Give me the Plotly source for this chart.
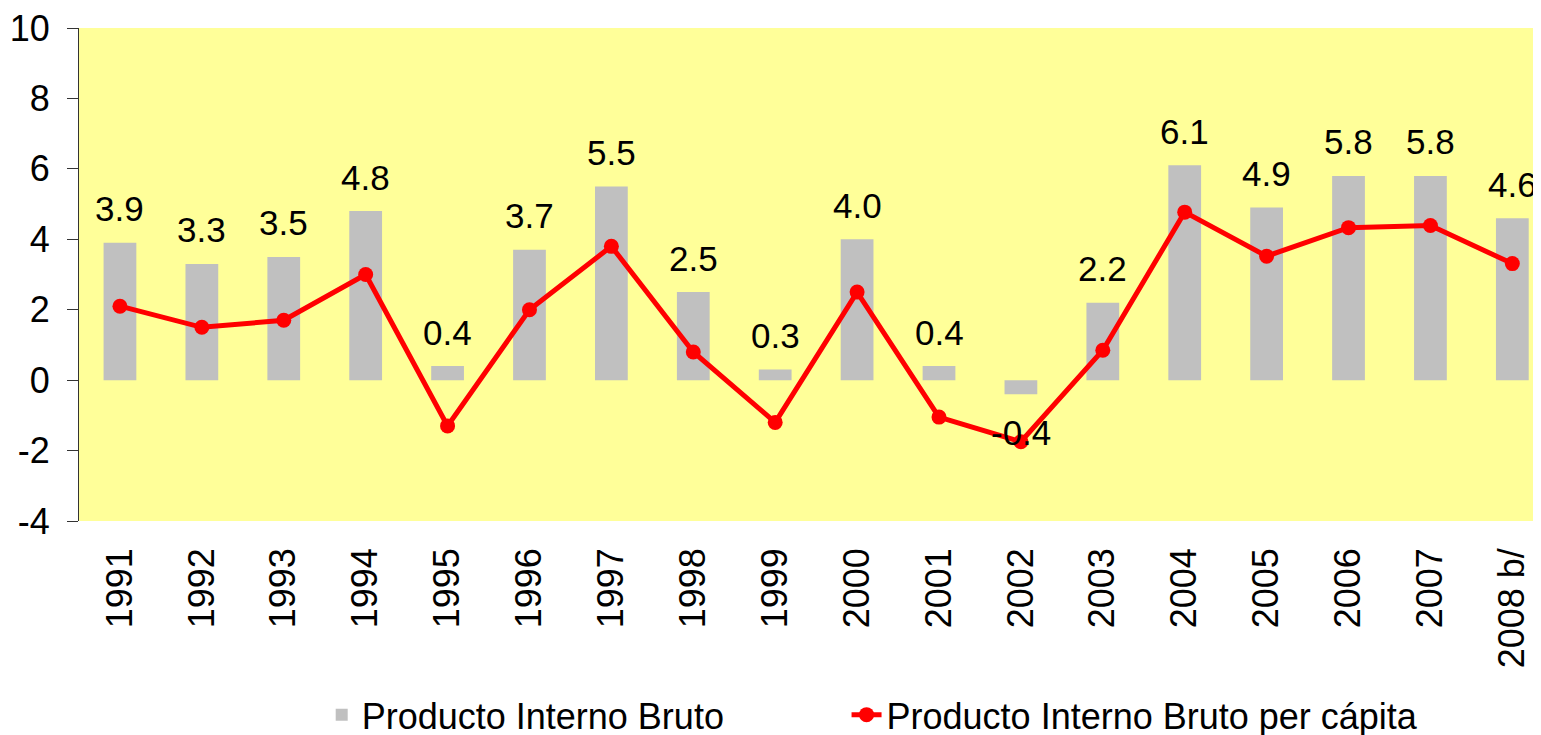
import plotly.graph_objects as go

years = ["1991", "1992", "1993", "1994", "1995", "1996", "1997", "1998", "1999",
         "2000", "2001", "2002", "2003", "2004", "2005", "2006", "2007", "2008 b/"]
pib = [3.9, 3.3, 3.5, 4.8, 0.4, 3.7, 5.5, 2.5, 0.3, 4.0, 0.4, -0.4, 2.2, 6.1, 4.9, 5.8, 5.8, 4.6]
pib_pc = [2.1, 1.5, 1.7, 3.0, -1.3, 2.0, 3.8, 0.8, -1.2, 2.5, -1.05, -1.75, 0.85, 4.77, 3.52, 4.33, 4.39, 3.31]
y_ticks = [-4, -2, 0, 2, 4, 6, 8, 10]
y_tick_text = ["-4", "-2", "0", "2", "4", "6", "8", "10"]

FONT = "Liberation Sans, Arial, sans-serif"
FS = 36
n = len(years)
xr = [-0.5, n - 0.65]

fig = go.Figure()
fig.add_trace(go.Bar(x=years, y=pib, name="Producto Interno Bruto",
                     marker=dict(color="#C0C0C0", line=dict(width=0)), width=0.4,
                     legend="legend"))
fig.add_trace(go.Scatter(x=years, y=pib_pc, name="Producto Interno Bruto per cápita",
                         mode="lines+markers", line=dict(color="#FF0000", width=5),
                         marker=dict(color="#FF0000", size=15), legend="legend2"))

for i, v in enumerate(pib):
    fig.add_annotation(x=i, y=v, xref="x", yref="y", text=f"{v:.1f}", showarrow=False,
                       xanchor="center", yanchor="middle",
                       yshift=34 if v >= 0 else -38,
                       font=dict(family=FONT, size=35, color="black"))

leg_common = dict(orientation="h", y=-0.393, yanchor="middle", xanchor="left",
                  font=dict(family=FONT, size=FS), bgcolor="rgba(0,0,0,0)")

fig.update_layout(
    width=1541, height=735,
    margin=dict(l=71, r=8, t=20, b=222, autoexpand=False),
    paper_bgcolor="white", plot_bgcolor="#FFFF99",
    font=dict(family=FONT, size=FS, color="black"),
    showlegend=True,
    legend=dict(x=0.166, **leg_common),
    legend2=dict(x=0.525, **leg_common),
    xaxis=dict(type="category", categoryorder="array", categoryarray=years,
               range=xr, showline=False, ticks="", showgrid=False, zeroline=False,
               tickangle=-90, tickfont=dict(size=FS), ticklabelstandoff=19,
               automargin=False, ticklabeloverflow="allow"),
    yaxis=dict(range=[-4, 10], tickvals=y_ticks, ticktext=y_tick_text, showline=True,
               linecolor="#333333", linewidth=1, ticks="outside", ticklen=11,
               tickcolor="#333333", showgrid=False, zeroline=False,
               tickfont=dict(size=FS), ticklabelstandoff=10, automargin=False,
               ticklabeloverflow="allow"),
    yaxis2=dict(overlaying="y", range=[-4, 10], tickvals=y_ticks, side="left",
                showline=False, ticks="inside", ticklen=11, tickcolor="#333333",
                showticklabels=False, showgrid=False, zeroline=False, automargin=False),
    xaxis2=dict(overlaying="x", anchor="free", position=4 / 14, range=xr,
                tickmode="linear", tick0=-0.5, dtick=1, ticks="outside", ticklen=11,
                tickcolor="black", showline=True, linecolor="black", linewidth=1,
                showticklabels=False, showgrid=False, zeroline=False, automargin=False),
    xaxis3=dict(overlaying="x", anchor="free", position=4 / 14, range=xr,
                tickmode="linear", tick0=-0.5, dtick=1, ticks="inside", ticklen=11,
                tickcolor="black", showline=False,
                showticklabels=False, showgrid=False, zeroline=False, automargin=False),
)

fig.write_html("out.html")
